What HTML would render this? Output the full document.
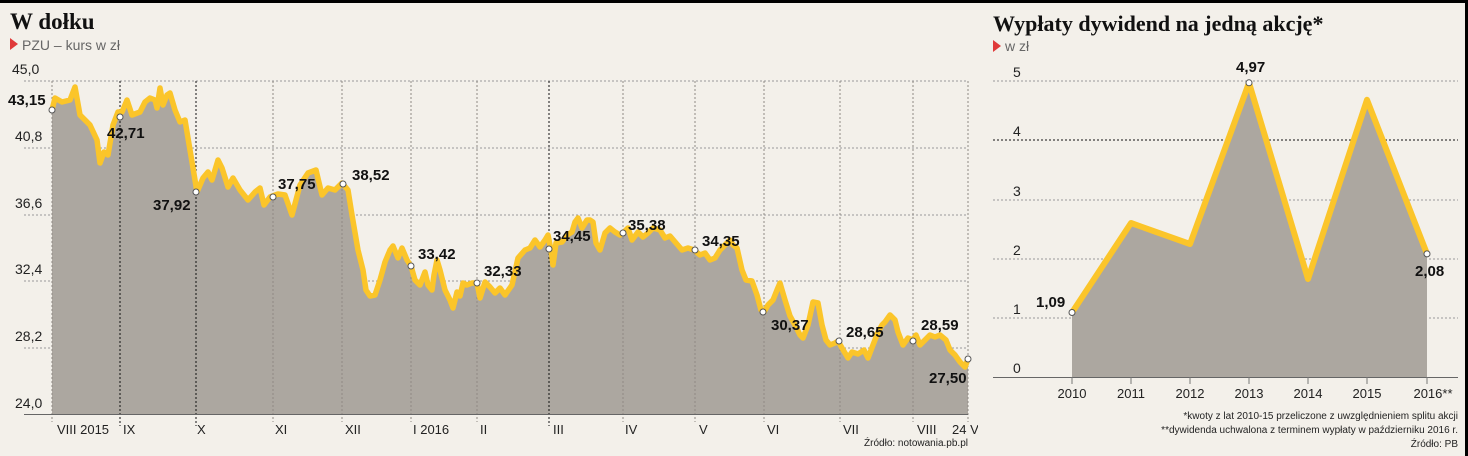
<!DOCTYPE html>
<html><head><meta charset="utf-8"><style>
html,body{margin:0;padding:0;background:#f3f0ea;}
svg{display:block}
text{font-family:"Liberation Sans",sans-serif;}
</style></head><body>
<svg width="1468" height="456" viewBox="0 0 1468 456" xmlns="http://www.w3.org/2000/svg">
<rect width="1468" height="456" fill="#f3f0ea"/>
<rect x="0" y="0" width="1468" height="3" fill="#000"/>
<rect x="1465" y="0" width="3" height="456" fill="#000"/>

<!-- LEFT CHART -->
<text x="10" y="29" style="font-family:'Liberation Serif',serif" font-weight="bold" font-size="23" fill="#111">W dołku</text>
<polygon points="10,38 10,50 18,44" fill="#e03a3a"/>
<text x="22" y="50" font-size="14" fill="#666">PZU – kurs w zł</text>

<g stroke="#999" stroke-width="1" stroke-dasharray="2,2">
<line x1="24" y1="81" x2="968" y2="81"/>
<line x1="24" y1="148" x2="968" y2="148"/>
<line x1="24" y1="215" x2="968" y2="215"/>
<line x1="24" y1="281" x2="968" y2="281"/>
<line x1="24" y1="348" x2="968" y2="348"/>
</g>
<g font-size="14" fill="#222">
<text x="12" y="74">45,0</text>
<text x="15" y="141">40,8</text>
<text x="15" y="208">36,6</text>
<text x="15" y="274">32,4</text>
<text x="15" y="341">28,2</text>
<text x="15" y="408">24,0</text>
</g>

<path d="M52,110 L55,98 L62,102 L70,100 L75,87 L80,115 L90,125 L97,140 L100,163 L104,152 L108,155 L113,125 L118,112 L122,112 L127,100 L132,115 L140,112 L145,102 L150,98 L155,100 L157,108 L160,88 L163,105 L167,95 L170,93 L175,110 L180,122 L185,120 L190,150 L195,180 L197,192 L203,178 L208,172 L212,180 L218,160 L222,168 L228,187 L233,178 L240,190 L248,200 L255,192 L260,188 L264,205 L270,197 L278,194 L285,195 L292,215 L300,185 L308,173 L316,170 L322,195 L328,188 L335,190 L342,183 L348,190 L352,215 L358,250 L363,270 L366,290 L370,296 L375,295 L380,280 L385,262 L390,250 L393,246 L398,258 L402,248 L407,260 L411,266 L415,280 L420,285 L425,272 L428,285 L432,290 L434,275 L437,260 L440,270 L445,290 L450,300 L453,308 L457,292 L460,296 L463,283 L467,285 L472,283 L477,283 L480,298 L485,282 L490,287 L495,293 L500,288 L505,295 L512,285 L518,258 L525,250 L530,248 L535,240 L540,247 L545,240 L548,235 L551,250 L553,265 L556,243 L562,242 L567,235 L572,232 L575,222 L578,218 L582,228 L587,220 L590,220 L593,222 L596,243 L600,250 L605,233 L610,228 L615,232 L620,235 L623,233 L628,228 L632,240 L638,232 L643,237 L648,233 L653,228 L660,230 L665,238 L670,236 L676,243 L682,250 L688,248 L694,250 L700,255 L705,253 L710,260 L715,258 L720,250 L725,245 L730,240 L733,245 L737,248 L742,270 L746,280 L752,281 L757,295 L761,310 L764,312 L768,305 L773,300 L777,290 L780,283 L785,300 L790,316 L795,325 L800,335 L803,338 L808,325 L813,302 L818,303 L822,325 L826,340 L830,345 L835,343 L838,341 L842,348 L848,358 L852,352 L858,354 L864,350 L868,358 L873,345 L878,332 L882,325 L885,322 L890,315 L895,320 L898,332 L903,345 L908,338 L913,340 L916,335 L920,345 L925,340 L930,335 L935,337 L940,335 L946,340 L950,350 L955,355 L960,362 L965,367 L968,359 L968,414 L52,414 Z" fill="#aca7a0"/>

<g stroke="#8f8a84" stroke-width="1" stroke-dasharray="2,2">
<line x1="52" y1="81" x2="52" y2="422"/>
<line x1="273" y1="81" x2="273" y2="422"/>
<line x1="342" y1="81" x2="342" y2="422"/>
<line x1="411" y1="81" x2="411" y2="422"/>
<line x1="477" y1="81" x2="477" y2="422"/>
<line x1="623" y1="81" x2="623" y2="422"/>
<line x1="695" y1="81" x2="695" y2="422"/>
<line x1="764" y1="81" x2="764" y2="422"/>
<line x1="840" y1="81" x2="840" y2="422"/>
<line x1="913" y1="81" x2="913" y2="422"/>
<line x1="968" y1="81" x2="968" y2="422"/>
</g>
<g stroke="#111" stroke-width="1" stroke-dasharray="2,2">
<line x1="120" y1="81" x2="120" y2="426"/>
<line x1="196" y1="81" x2="196" y2="426"/>
<line x1="549" y1="81" x2="549" y2="426"/>
</g>
<line x1="24" y1="414.5" x2="968" y2="414.5" stroke="#666" stroke-width="1"/>

<path d="M52,110 L55,98 L62,102 L70,100 L75,87 L80,115 L90,125 L97,140 L100,163 L104,152 L108,155 L113,125 L118,112 L122,112 L127,100 L132,115 L140,112 L145,102 L150,98 L155,100 L157,108 L160,88 L163,105 L167,95 L170,93 L175,110 L180,122 L185,120 L190,150 L195,180 L197,192 L203,178 L208,172 L212,180 L218,160 L222,168 L228,187 L233,178 L240,190 L248,200 L255,192 L260,188 L264,205 L270,197 L278,194 L285,195 L292,215 L300,185 L308,173 L316,170 L322,195 L328,188 L335,190 L342,183 L348,190 L352,215 L358,250 L363,270 L366,290 L370,296 L375,295 L380,280 L385,262 L390,250 L393,246 L398,258 L402,248 L407,260 L411,266 L415,280 L420,285 L425,272 L428,285 L432,290 L434,275 L437,260 L440,270 L445,290 L450,300 L453,308 L457,292 L460,296 L463,283 L467,285 L472,283 L477,283 L480,298 L485,282 L490,287 L495,293 L500,288 L505,295 L512,285 L518,258 L525,250 L530,248 L535,240 L540,247 L545,240 L548,235 L551,250 L553,265 L556,243 L562,242 L567,235 L572,232 L575,222 L578,218 L582,228 L587,220 L590,220 L593,222 L596,243 L600,250 L605,233 L610,228 L615,232 L620,235 L623,233 L628,228 L632,240 L638,232 L643,237 L648,233 L653,228 L660,230 L665,238 L670,236 L676,243 L682,250 L688,248 L694,250 L700,255 L705,253 L710,260 L715,258 L720,250 L725,245 L730,240 L733,245 L737,248 L742,270 L746,280 L752,281 L757,295 L761,310 L764,312 L768,305 L773,300 L777,290 L780,283 L785,300 L790,316 L795,325 L800,335 L803,338 L808,325 L813,302 L818,303 L822,325 L826,340 L830,345 L835,343 L838,341 L842,348 L848,358 L852,352 L858,354 L864,350 L868,358 L873,345 L878,332 L882,325 L885,322 L890,315 L895,320 L898,332 L903,345 L908,338 L913,340 L916,335 L920,345 L925,340 L930,335 L935,337 L940,335 L946,340 L950,350 L955,355 L960,362 L965,367 L968,359" fill="none" stroke="#fbc52a" stroke-width="5.5" stroke-linejoin="round" stroke-linecap="round"/>

<g fill="#fff" stroke="#555" stroke-width="1">
<circle cx="52" cy="110" r="3"/><circle cx="120" cy="117" r="3"/><circle cx="196" cy="192" r="3"/>
<circle cx="273" cy="197" r="3"/><circle cx="343" cy="184" r="3"/><circle cx="411" cy="266" r="3"/>
<circle cx="477" cy="283" r="3"/><circle cx="549" cy="249" r="3"/><circle cx="623" cy="233" r="3"/>
<circle cx="695" cy="250" r="3"/><circle cx="763" cy="312" r="3"/><circle cx="839" cy="341" r="3"/>
<circle cx="913" cy="341" r="3"/><circle cx="968" cy="359" r="3"/>
</g>
<g font-size="15" font-weight="bold" fill="#111">
<text x="8" y="105">43,15</text>
<text x="107" y="138">42,71</text>
<text x="153" y="210">37,92</text>
<text x="278" y="189">37,75</text>
<text x="352" y="180">38,52</text>
<text x="418" y="259">33,42</text>
<text x="484" y="276">32,33</text>
<text x="553" y="241">34,45</text>
<text x="628" y="230">35,38</text>
<text x="702" y="246">34,35</text>
<text x="771" y="330">30,37</text>
<text x="846" y="337">28,65</text>
<text x="921" y="330">28,59</text>
<text x="929" y="383">27,50</text>
</g>
<g font-size="13" fill="#222">
<text x="57" y="434">VIII 2015</text>
<text x="123" y="434">IX</text>
<text x="197" y="434">X</text>
<text x="275" y="434">XI</text>
<text x="345" y="434">XII</text>
<text x="413" y="434">I 2016</text>
<text x="480" y="434">II</text>
<text x="553" y="434">III</text>
<text x="625" y="434">IV</text>
<text x="699" y="434">V</text>
<text x="767" y="434">VI</text>
<text x="843" y="434">VII</text>
<text x="917" y="434">VIII</text>
<text x="952" y="434">24 VIII</text>
</g>
<text x="968" y="446" font-size="10" fill="#222" text-anchor="end">Źródło: notowania.pb.pl</text>

<!-- RIGHT CHART -->
<rect x="978" y="3" width="487" height="453" fill="#f3f0ea"/>
<text x="993" y="31" style="font-family:'Liberation Serif',serif" font-weight="bold" font-size="22" fill="#111">Wypłaty dywidend na jedną akcję*</text>
<polygon points="993,40 993,52 1001,46" fill="#e03a3a"/>
<text x="1005" y="51" font-size="14" fill="#666">w zł</text>
<g stroke="#999" stroke-width="1" stroke-dasharray="2,2">
<line x1="993" y1="81" x2="1458" y2="81"/>
<line x1="993" y1="200" x2="1458" y2="200"/>
<line x1="993" y1="259" x2="1458" y2="259"/>
<line x1="993" y1="318" x2="1458" y2="318"/>
</g>
<line x1="993" y1="140" x2="1458" y2="140" stroke="#111" stroke-width="1" stroke-dasharray="2,2"/>
<g font-size="14" fill="#222">
<text x="1013" y="77">5</text><text x="1013" y="136">4</text><text x="1013" y="196">3</text>
<text x="1013" y="255">2</text><text x="1013" y="314">1</text><text x="1013" y="373">0</text>
</g>
<polygon points="1072,312.5 1131,223 1190,244 1249,82.8 1308,279 1367,99.8 1427,253.9 1427,377 1072,377" fill="#aca7a0"/>
<line x1="993" y1="377.5" x2="1458" y2="377.5" stroke="#666" stroke-width="1"/>
<g stroke="#777" stroke-width="1">
<line x1="1131" y1="377" x2="1131" y2="384"/><line x1="1190" y1="377" x2="1190" y2="384"/>
<line x1="1249" y1="377" x2="1249" y2="384"/><line x1="1308" y1="377" x2="1308" y2="384"/>
<line x1="1367" y1="377" x2="1367" y2="384"/><line x1="1072" y1="377" x2="1072" y2="384"/>
<line x1="1427" y1="377" x2="1427" y2="384"/>
</g>
<polyline points="1072,312.5 1131,223 1190,244 1249,82.8 1308,279 1367,99.8 1427,253.9" fill="none" stroke="#fbc52a" stroke-width="6" stroke-linejoin="round"/>
<g fill="#fff" stroke="#555" stroke-width="1">
<circle cx="1072" cy="312.5" r="3"/><circle cx="1249" cy="82.8" r="3"/><circle cx="1427" cy="253.9" r="3"/>
</g>
<g font-size="15" font-weight="bold" fill="#111">
<text x="1036" y="307">1,09</text>
<text x="1236" y="72">4,97</text>
<text x="1415" y="276">2,08</text>
</g>
<g font-size="13" fill="#222" text-anchor="middle">
<text x="1072" y="398">2010</text><text x="1131" y="398">2011</text><text x="1190" y="398">2012</text>
<text x="1249" y="398">2013</text><text x="1308" y="398">2014</text><text x="1367" y="398">2015</text>
<text x="1433" y="398">2016**</text>
</g>
<g font-size="10" fill="#222" text-anchor="end">
<text x="1458" y="419">*kwoty z lat 2010-15 przeliczone z uwzględnieniem splitu akcji</text>
<text x="1458" y="433">**dywidenda uchwalona z terminem wypłaty w październiku 2016 r.</text>
<text x="1458" y="447">Źródło: PB</text>
</g>
</svg>
</body></html>
